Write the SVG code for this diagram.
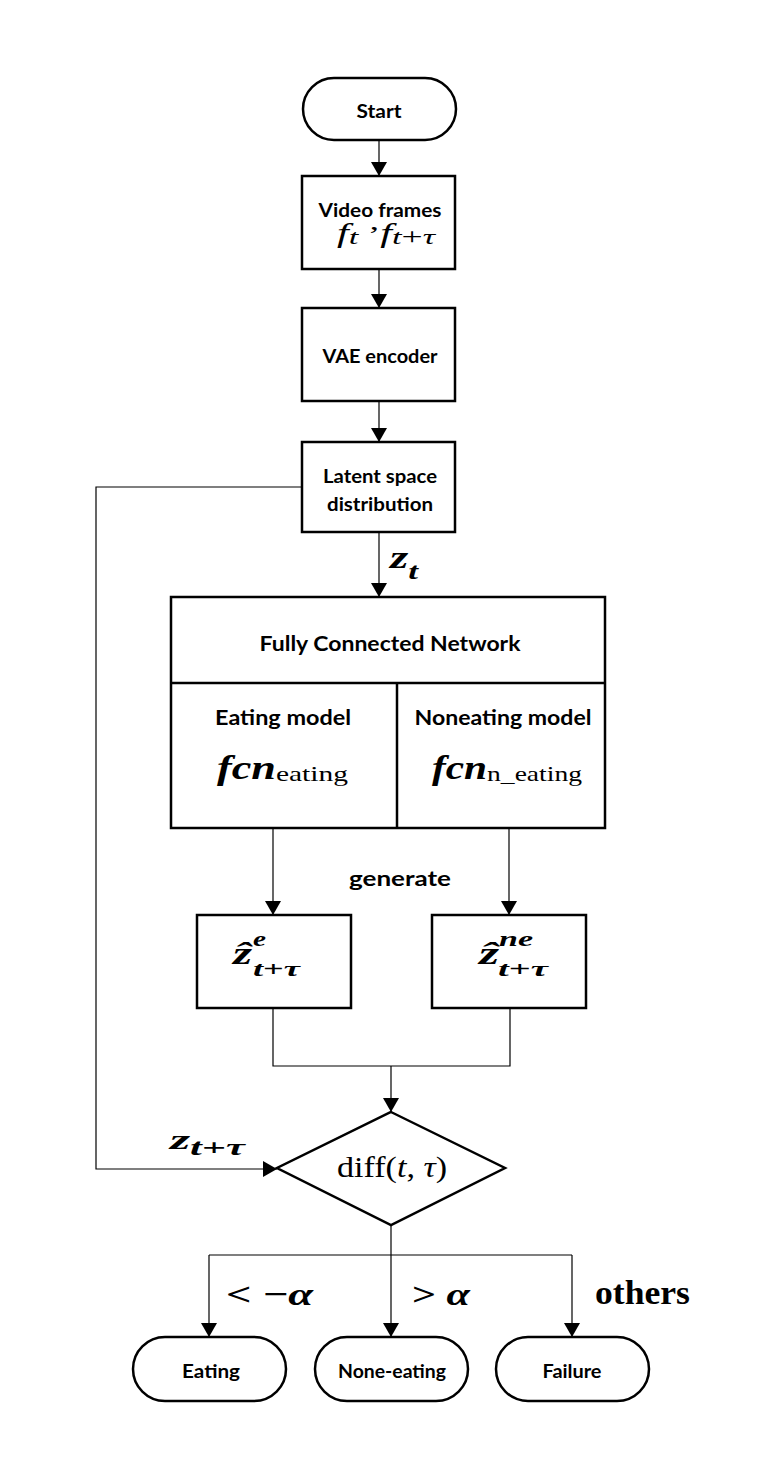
<svg xmlns="http://www.w3.org/2000/svg" width="771" height="1478" viewBox="0 0 771 1478">
<style>
.box{fill:#fff;stroke:#000;stroke-width:2.5}
.ln{fill:none;stroke:#000;stroke-width:1.2}
.arr{fill:none;stroke:#000;stroke-width:1.2;marker-end:url(#ah)}
.t{font-family:Lato,"Open Sans","Liberation Sans",sans-serif;font-weight:bold;font-size:19px;fill:#000;text-anchor:middle;dominant-baseline:central}
.m{font-family:"Liberation Serif","DejaVu Serif",serif;fill:#000}
.mi{font-style:italic}
.mb{font-weight:bold;font-style:italic}
</style>
<defs>
<marker id="ah" markerWidth="14" markerHeight="16" refX="14" refY="8" orient="auto" markerUnits="userSpaceOnUse">
<path d="M0,0 L14,8 L0,16 z" fill="#000"/>
</marker>
</defs>
<rect width="771" height="1478" fill="#fff"/>
<g id="connectors">
<line class="arr" x1="379" y1="140" x2="379" y2="176"/>
<line class="arr" x1="379" y1="269" x2="379" y2="308"/>
<line class="arr" x1="379" y1="401" x2="379" y2="442"/>
<line class="arr" x1="379" y1="532" x2="379" y2="597"/>
<line class="arr" x1="273" y1="828" x2="273" y2="915"/>
<line class="arr" x1="509" y1="828" x2="509" y2="915"/>
<polyline class="ln" points="273,1008 273,1066 510,1066 510,1008"/>
<line class="arr" x1="391" y1="1066" x2="391" y2="1112"/>
<polyline class="arr" points="302,487 96,487 96,1169 277,1169"/>
<line class="ln" x1="391" y1="1225" x2="391" y2="1255"/>
<line class="ln" x1="209" y1="1255" x2="572" y2="1255"/>
<line class="arr" x1="209" y1="1255" x2="209" y2="1337"/>
<line class="arr" x1="391" y1="1255" x2="391" y2="1337"/>
<line class="arr" x1="572" y1="1255" x2="572" y2="1337"/>
<text class="t" x="400" y="877" style="font-size:21px" textLength="102" lengthAdjust="spacingAndGlyphs">generate</text>
<text class="m mb" x="390" y="568" font-size="32" textLength="28" lengthAdjust="spacingAndGlyphs">z<tspan font-size="24" dy="11">t</tspan></text>
<text class="m mb" x="170" y="1149" font-size="28" textLength="75" lengthAdjust="spacingAndGlyphs">z<tspan font-size="23" dy="6">t</tspan><tspan font-size="23" font-weight="bold" font-style="normal">+</tspan><tspan font-size="23">τ</tspan></text>
<text class="m" x="226" y="1305" font-size="32" font-weight="bold" textLength="87" lengthAdjust="spacingAndGlyphs">&lt; −<tspan font-style="italic">α</tspan></text>
<text class="m" x="412" y="1305" font-size="32" font-weight="bold" textLength="58" lengthAdjust="spacingAndGlyphs">&gt; <tspan font-style="italic">α</tspan></text>
<text class="m" x="595" y="1304" font-size="34" font-weight="bold" textLength="95" lengthAdjust="spacingAndGlyphs">others</text>
</g>
<g id="start">
<rect class="box" x="303" y="78" width="153" height="62" rx="31" ry="31"/>
<text class="t" x="379" y="110" textLength="45" lengthAdjust="spacingAndGlyphs">Start</text>
</g>
<g id="video">
<rect class="box" x="302" y="176" width="153" height="93"/>
<text class="t" x="380" y="209" textLength="123" lengthAdjust="spacingAndGlyphs">Video frames</text>
<text class="m mi" x="337" y="242" font-size="27" textLength="98" lengthAdjust="spacingAndGlyphs">f<tspan font-size="22" dy="2">t</tspan><tspan dy="-2" font-style="normal" font-size="24"> ’</tspan>f<tspan font-size="22" dy="2">t</tspan><tspan font-size="24" font-style="normal">+</tspan><tspan font-size="22">τ</tspan></text>
</g>
<g id="vae">
<rect class="box" x="302" y="308" width="153" height="93"/>
<text class="t" x="380" y="355" textLength="115" lengthAdjust="spacingAndGlyphs">VAE encoder</text>
</g>
<g id="latent">
<rect class="box" x="302" y="442" width="153" height="90"/>
<text class="t" x="380" y="475" textLength="114" lengthAdjust="spacingAndGlyphs">Latent space</text>
<text class="t" x="380" y="503" textLength="106" lengthAdjust="spacingAndGlyphs">distribution</text>
</g>
<g id="fcn">
<rect class="box" x="171" y="597" width="434" height="231"/>
<line class="box" x1="171" y1="683" x2="605" y2="683"/>
<line class="box" x1="397" y1="683" x2="397" y2="828"/>
<text class="t" x="390" y="642" style="font-size:21px" textLength="261" lengthAdjust="spacingAndGlyphs">Fully Connected Network</text>
<text class="t" x="283" y="716" style="font-size:21px" textLength="136" lengthAdjust="spacingAndGlyphs">Eating model</text>
<text class="t" x="503" y="716" style="font-size:21px" textLength="177" lengthAdjust="spacingAndGlyphs">Noneating model</text>
<text class="m mb" x="217" y="779" font-size="33" textLength="131" lengthAdjust="spacingAndGlyphs">fcn<tspan font-size="22" font-weight="normal" font-style="normal" dy="2">eating</tspan></text>
<text class="m mb" x="432" y="779" font-size="33" textLength="150" lengthAdjust="spacingAndGlyphs">fcn<tspan font-size="22" font-weight="normal" font-style="normal" dy="2">n_eating</tspan></text>
</g>
<g id="ze">
<rect class="box" x="197" y="915" width="154" height="93"/>
<text class="m mb" x="233" y="964" font-size="32" textLength="19" lengthAdjust="spacingAndGlyphs">ẑ</text>
<text class="m mb" x="253" y="946" font-size="21" textLength="13" lengthAdjust="spacingAndGlyphs">e</text>
<text class="m mb" x="253" y="976" font-size="22" textLength="47" lengthAdjust="spacingAndGlyphs">t<tspan font-style="normal">+</tspan>τ</text>
</g>
<g id="zne">
<rect class="box" x="432" y="915" width="154" height="93"/>
<text class="m mb" x="479" y="964" font-size="32" textLength="20" lengthAdjust="spacingAndGlyphs">ẑ</text>
<text class="m mb" x="499" y="946" font-size="21" textLength="34" lengthAdjust="spacingAndGlyphs">ne</text>
<text class="m mb" x="498" y="976" font-size="22" textLength="50" lengthAdjust="spacingAndGlyphs">t<tspan font-style="normal">+</tspan>τ</text>
</g>
<g id="diff">
<polygon class="box" points="391,1112 505,1168 391,1225 277,1168"/>
<text class="m" x="337" y="1177" font-size="30" textLength="110" lengthAdjust="spacingAndGlyphs">diff(<tspan font-style="italic">t</tspan>, <tspan font-style="italic">τ</tspan>)</text>
</g>
<g id="eating">
<rect class="box" x="133" y="1337" width="153" height="64" rx="32" ry="32"/>
<text class="t" x="211" y="1370" textLength="58" lengthAdjust="spacingAndGlyphs">Eating</text>
</g>
<g id="noneating">
<rect class="box" x="315" y="1337" width="153" height="64" rx="32" ry="32"/>
<text class="t" x="392" y="1370" textLength="108" lengthAdjust="spacingAndGlyphs">None-eating</text>
</g>
<g id="failure">
<rect class="box" x="496" y="1337" width="153" height="64" rx="32" ry="32"/>
<text class="t" x="572" y="1370" textLength="59" lengthAdjust="spacingAndGlyphs">Failure</text>
</g>
</svg>
